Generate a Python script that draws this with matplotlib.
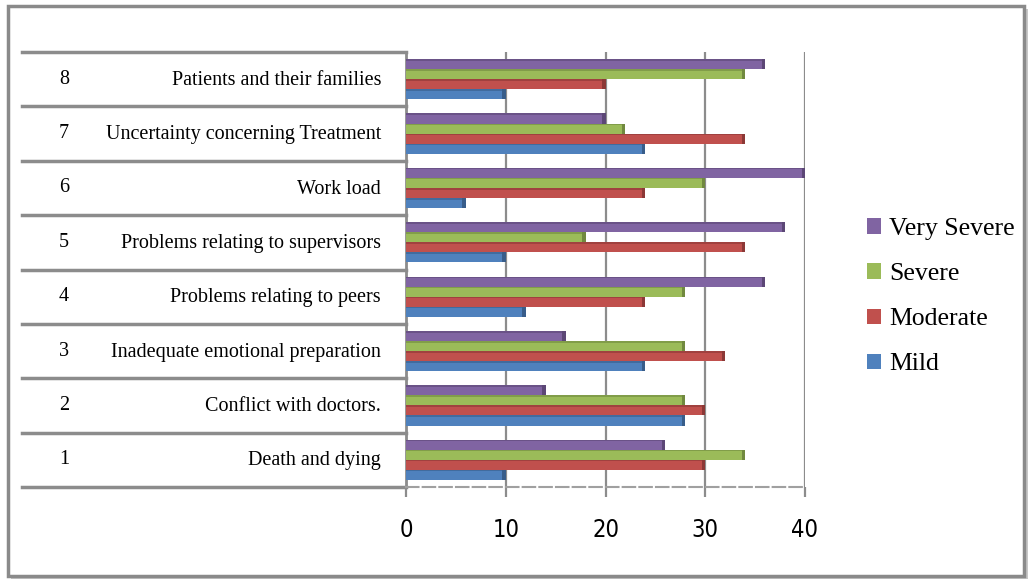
import numpy as np
import matplotlib
matplotlib.use("Agg")
import matplotlib.pyplot as plt
from matplotlib.patches import Rectangle
from matplotlib.transforms import blended_transform_factory

# data, bottom (1) to top (8)
numbers = ["1", "2", "3", "4", "5", "6", "7", "8"]
stressors = ["Death and dying", "Conflict with doctors.", "Inadequate emotional preparation",
             "Problems relating to peers", "Problems relating to supervisors", "Work load",
             "Uncertainty concerning Treatment", "Patients and their families"]
levels = ["Mild", "Moderate", "Severe", "Very Severe"]
mild = [10, 28, 24, 12, 10, 6, 24, 10]
moderate = [30, 30, 32, 24, 34, 24, 34, 20]
severe = [34, 28, 28, 28, 18, 30, 22, 34]
very_severe = [26, 14, 16, 36, 38, 40, 20, 36]
xticks = [0, 10, 20, 30, 40]

colors = ["#4F81BD", "#C0504D", "#9BBB59", "#8064A2"]
edge_dark = ["#385D8A", "#8C3836", "#71893F", "#5C4776"]

W, H = 1028, 579
fig = plt.figure(figsize=(W / 100, H / 100), dpi=100)

def fx(px):
    return px / W

def fy(py):
    return 1 - py / H

# outer frame with shadow
fig.patches.append(Rectangle((fx(11), fy(579)), fx(1017), fy(9) - fy(579), transform=fig.transFigure,
                             facecolor="#c8c8c8", edgecolor="none", zorder=-5))
fig.patches.append(Rectangle((fx(8), fy(576)), fx(1016), fy(6) - fy(576), transform=fig.transFigure,
                             facecolor="white", edgecolor="#8a8a8a", lw=2.5, zorder=-4))

ax = fig.add_axes([fx(406), fy(487), fx(805) - fx(406), fy(52) - fy(487)])
ax.patch.set_alpha(0)
ax.set_xlim(0, 40)
ax.set_ylim(-0.5, 7.5)

y = np.arange(len(stressors))
h = 0.185
series = [mild, moderate, severe, very_severe]
for k, vals in enumerate(series):
    off = (k - 1.5) * h
    ax.barh(y + off, vals, height=h, color=colors[k], edgecolor="none", label=levels[k], zorder=3)
    # darker end cap and top strip for a bit of the 3d look
    ax.barh(y + off, [0.35] * len(vals), left=np.array(vals) - 0.35, height=h,
            color=edge_dark[k], edgecolor="none", zorder=3)
    ax.barh(y + off + h * 0.42, vals, height=h * 0.16, color=edge_dark[k],
            edgecolor="none", alpha=0.6, zorder=3)

ax.set_xticks(xticks)
ax.set_yticks([])
ax.grid(axis="x", color="#8c8c8c", lw=1.6, zorder=0)
for s in ["top", "right"]:
    ax.spines[s].set_visible(False)
ax.spines["left"].set_color("#8c8c8c")
ax.spines["left"].set_linewidth(2)
ax.spines["bottom"].set_color("#a0a0a0")
ax.spines["bottom"].set_linewidth(1.5)
ax.spines["bottom"].set_linestyle((0, (6, 2)))
ax.tick_params(axis="x", length=7, width=1.6, color="#8c8c8c", pad=15, labelsize=17)
for lbl in ax.get_xticklabels():
    lbl.set_family(["Liberation Sans Narrow", "DejaVu Sans"])
    lbl.set_stretch("condensed")

# table-like category area on the left
tr = blended_transform_factory(fig.transFigure, ax.transData)
for b in np.arange(-0.5, 8.0, 1.0):
    ax.plot([fx(22), fx(406)], [b, b], transform=tr, color="#8c8c8c", lw=2.5,
            clip_on=False, zorder=1)
for i in range(len(stressors)):
    ax.text(fx(64), i + 0.0, numbers[i], transform=tr, ha="center", va="center",
            family="Liberation Serif", fontsize=14.5)
    ax.text(fx(381), i - 0.02, stressors[i], transform=tr, ha="right", va="center",
            family="Liberation Serif", fontsize=14.5)

handles, labels = ax.get_legend_handles_labels()
leg = fig.legend(handles[::-1], labels[::-1], loc="upper left",
                 bbox_to_anchor=(fx(844), fy(195)), frameon=False,
                 prop={"family": "Liberation Serif", "size": 18.5},
                 handlelength=0.55, handleheight=0.55, handletextpad=0.3, labelspacing=0.9)

fig.savefig("out.png", dpi=100)
